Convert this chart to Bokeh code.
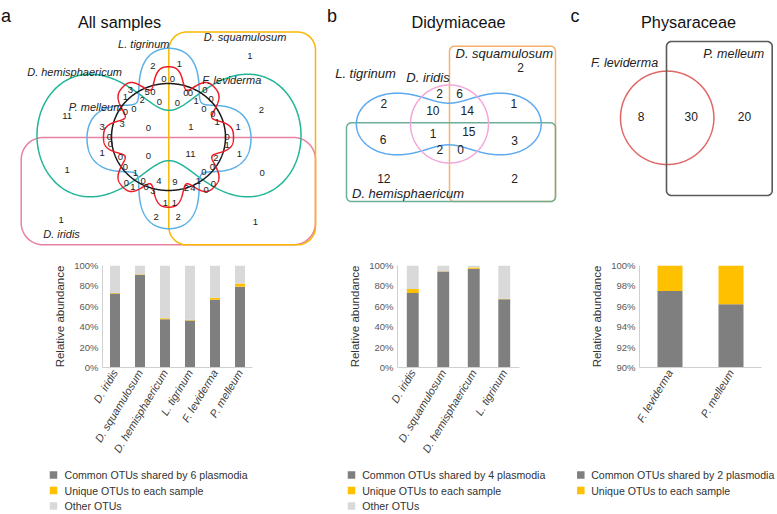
import numpy as np
from bokeh.plotting import figure
from bokeh.layouts import column, row
from bokeh.models import Range1d, FixedTicker, PrintfTickFormatter
from bokeh.core.properties import value
from bokeh.embed import file_html
from bokeh.resources import INLINE

FONT = "Liberation Sans"

# ---------------- data ----------------
titles = ["All samples", "Didymiaceae", "Physaraceae"]
panel_letters = ["a", "b", "c"]

# bar charts (relative abundance, %)
cats_a = ["D. iridis", "D. squamulosum", "D. hemisphaericum", "L. tigrinum", "F. leviderma", "P. melleum"]
common_a = [72.6, 91.0, 47.4, 46.0, 66.3, 79.2]
unique_a = [0.4, 0.3, 1.0, 0.8, 2.2, 3.2]

cats_b = ["D. iridis", "D. squamulosum", "D. hemisphaericum", "L. tigrinum"]
common_b = [73.0, 94.0, 96.8, 67.0]
unique_b = [4.0, 0.3, 1.3, 0.3]

cats_c = ["F. leviderma", "P. melleum"]
common_c = [97.5, 96.2]
unique_c = [2.5, 3.8]

ticks_ab = [0, 20, 40, 60, 80, 100]
ticks_c = [90, 92, 94, 96, 98, 100]

legend_a = ["Common OTUs shared by 6 plasmodia", "Unique OTUs to each sample", "Other OTUs"]
legend_b = ["Common OTUs shared by 4 plasmodia", "Unique OTUs to each sample", "Other OTUs"]
legend_c = ["Common OTUs shared by 2 plasmodia", "Unique OTUs to each sample"]

# Venn diagrams: set names and region counts
sets_a = ["L. tigrinum", "D. squamulosum", "D. hemisphaericum", "F. leviderma", "P. melleum", "D. iridis"]
venn_a_counts = [1, 2, 1, 0, 0, 3, 1, 5, 0, 2, 0, 0, 0, 0, 0, 0, 1, 0, 0, 1,
                 1, 0, 1, 1, 2, 0, 0, 0, 0, 1, 4, 2, 9, 1, 1, 2, 2, 2, 0, 1,
                 1, 11, 0, 0, 11, 3, 0, 0, 3, 0, 0, 1, 0, 0, 1, 0, 1, 0, 4, 0,
                 3, 1, 1]
sets_b = ["L. tigrinum", "D. iridis", "D. squamulosum", "D. hemisphaericum"]
venn_b_counts = [2, 2, 6, 2, 10, 14, 1, 6, 1, 15, 3, 2, 0, 12, 2]
sets_c = ["F. leviderma", "P. melleum"]
venn_c_counts = [8, 30, 20]

# ---------------- layout (positions in page pixels) ----------------
venn_a_x = [249.3, 152.3, 179, 163.3, 172, 130, 125, 146.7, 152.5, 141.7, 159, 177, 185.3, 190, 204.3, 210.7, 195.7, 203.3, 212.3, 216.7,
            237.7, 226.7, 226.7, 239, 215.5, 212, 203.3, 213, 205.7, 197.7, 192.3, 186, 174.3, 165, 174, 177.7, 155.7, 261, 261.7, 255,
            190.5, 190, 148, 148, 66.7, 101.7, 125, 133.3, 121.7, 109, 110, 101.7, 120, 125, 135, 126, 132.3, 142.7, 158.3, 145.7,
            152.3, 66.7, 60.7]
venn_a_y = [55, 65.7, 63.3, 78.3, 78.3, 89.3, 96.7, 91, 91, 99.3, 101.5, 102, 92.7, 92.7, 89.3, 98.3, 100, 108.3, 113.3, 121.7,
            126, 136, 144, 153.3, 157, 166, 171, 183, 189.5, 180, 187, 187.5, 181.7, 202.5, 202.5, 216.5, 216, 109.3, 172.7, 221,
            126.7, 153.7, 127.5, 155, 115, 126.7, 111.5, 108.8, 123.3, 136, 143.3, 152.5, 156.7, 166.7, 172.7, 182.7, 186.7, 180, 180, 186.7,
            190, 169, 219]
sets_a_pos = [(143.3, 43.3, "center"), (203.3, 36.7, "left"), (26.7, 71, "left"),
              (201.7, 79.3, "left"), (68.3, 106, "left"), (42.7, 233.3, "left")]

venn_b_x = [383.3, 439, 459, 520, 432.3, 466.7, 513.3, 382.7, 432.7, 468.3, 514, 439.3, 460, 383.3, 514]
venn_b_y = [102.7, 92.7, 92.7, 66.7, 110, 110, 103.3, 139.3, 133.3, 131, 140, 149.3, 149.3, 178.3, 178.3]
sets_b_pos = [(365, 73.3, "center"), (427.5, 77.3, "center"), (455, 53.3, "left"), (407.5, 192.7, "center")]

venn_c_x = [640.7, 690.7, 744]
venn_c_y = [116, 116, 116]
sets_c_pos = [(624, 62, "center"), (733.3, 53, "center")]

DARK = "#7F7F7F"
YEL = "#FFC000"
LIGHT = "#D9D9D9"

W = 776
H_TOP, H_BAR, H_LEG = 255, 207, 51


def rrect(x0, y0, x1, y1, r, n=16):
    xs, ys = [], []
    for cx, cy, a0 in [(x1 - r, y0 + r, -90), (x1 - r, y1 - r, 0), (x0 + r, y1 - r, 90), (x0 + r, y0 + r, 180)]:
        t = np.radians(np.linspace(a0, a0 + 90, n))
        xs += list(cx + r * np.cos(t))
        ys += list(cy + r * np.sin(t))
    xs.append(xs[0]); ys.append(ys[0])
    return xs, ys


def ellipse(cx, cy, rx, ry, n=360):
    t = np.linspace(0, 2 * np.pi, n + 1)
    return list(cx + rx * np.cos(t)), list(cy + ry * np.sin(t))


def cassini(cx, cy, a, b, sy, n=720):
    t = np.linspace(0, 2 * np.pi, n + 1)
    r = np.sqrt(a * a * np.cos(2 * t) + np.sqrt(b ** 4 - a ** 4 * np.sin(2 * t) ** 2))
    return list(cx + r * np.cos(t)), list(cy + sy * r * np.sin(t))


def flower(cx, cy, k, c0, c1, c2, sy, n=1440):
    t = np.linspace(0, 2 * np.pi, n + 1)
    r = c0 + c1 * np.cos(k * t) + c2 * np.cos(2 * k * t)
    return list(cx + r * np.cos(t)), list(cy + sy * r * np.sin(t))


# ---------------- top figure: Venn diagrams ----------------
top = figure(width=W, height=H_TOP, x_range=Range1d(0, W), y_range=Range1d(H_TOP, 0),
             output_backend="svg", toolbar_location=None, x_axis_location=None, y_axis_location=None,
             min_border=0, outline_line_color=None)
top.grid.visible = False

# panel a shapes
for (xs, ys), col in [
    (rrect(20.7, 137, 315, 244.3, 22), "#E8819F"),
    (rrect(168.3, 31.5, 315, 244.3, 18), "#F9B700"),
    (cassini(168.5, 135, 92.3, 94.4, 1.27), "#22B597"),
    (flower(168.5, 138, 4, 67, 18, -3, 1.1), "#5BB0E6"),
    (ellipse(168, 136.5, 57, 53.5), "#1A1A1A"),
    (flower(168, 136.5, 8, 58, 9, -2, 1.08), "#EE1C25"),
]:
    top.line(xs, ys, line_color=col, line_width=1.5)

# panel b shapes
for (xs, ys), col in [
    (rrect(449, 45.7, 555, 201, 5), "#F6B26B"),
    (rrect(346, 122.3, 555, 201, 5), "#6DAE99"),
    (cassini(448.3, 123.5, 63, 67.6, 0.85), "#5DA9F0"),
    (ellipse(449, 123.5, 39, 39), "#F2A6D9"),
]:
    top.line(xs, ys, line_color=col, line_width=1.5)

# panel c shapes
xs, ys = ellipse(666.7, 117.3, 46.7, 46.7)
top.line(xs, ys, line_color="#E06666", line_width=1.5)
xs, ys = rrect(666, 41, 771.7, 195, 5)
top.line(xs, ys, line_color="#595959", line_width=1.6)

# numbers
top.text(x=venn_a_x, y=venn_a_y, text=[str(v) for v in venn_a_counts], text_font=value(FONT),
         text_font_size="9.5px", text_align="center", text_baseline="middle", text_color="#222222")
top.text(x=venn_b_x, y=venn_b_y, text=[str(v) for v in venn_b_counts], text_font=value(FONT),
         text_font_size="12px", text_align="center", text_baseline="middle", text_color="#222222")
top.text(x=venn_c_x, y=venn_c_y, text=[str(v) for v in venn_c_counts], text_font=value(FONT),
         text_font_size="12px", text_align="center", text_baseline="middle", text_color="#222222")

# set labels
for names, pos, fs in [(sets_a, sets_a_pos, "11px"), (sets_b, sets_b_pos, "13px"), (sets_c, sets_c_pos, "12.5px")]:
    for name, (x, y, al) in zip(names, pos):
        top.text(x=[x], y=[y], text=[name], text_font=value(FONT), text_font_size=fs,
                 text_font_style="italic", text_align=al, text_baseline="middle", text_color="#222222")

# titles and panel letters
top.text(x=[119, 458, 688], y=[21.5, 21, 21], text=titles, text_font=value(FONT), text_font_size="16.3px",
         text_align="center", text_baseline="alphabetic", text_color="#111111")
top.text(x=[0.5, 326.5, 570], y=[15, 15, 15], text=panel_letters, text_font=value(FONT), text_font_size="18px",
         text_align="left", text_baseline="alphabetic", text_color="#111111")


# ---------------- bar charts ----------------
def bar_panel(cats, common, unique, with_other, w, ml, mr, mt, mb, ymin, yticks, barw):
    p = figure(width=w, height=H_BAR, x_range=cats, y_range=Range1d(ymin, 100),
               output_backend="svg", toolbar_location=None,
               min_border_left=ml, min_border_right=mr, min_border_top=mt, min_border_bottom=mb)
    top1 = list(common)
    top2 = [c + u for c, u in zip(common, unique)]
    p.vbar(x=cats, bottom=ymin, top=top1, width=barw, fill_color=DARK, line_color=None)
    p.vbar(x=cats, bottom=top1, top=top2, width=barw, fill_color=YEL, line_color=None)
    if with_other:
        p.vbar(x=cats, bottom=top2, top=100, width=barw, fill_color=LIGHT, line_color=None)
    p.grid.visible = False
    p.outline_line_color = None
    p.axis.axis_line_color = "#D0D0D0"
    p.axis.major_tick_line_color = None
    p.axis.minor_tick_line_color = None
    p.axis.major_tick_out = 0
    p.axis.major_tick_in = 0
    p.yaxis.ticker = FixedTicker(ticks=yticks)
    p.yaxis.formatter = PrintfTickFormatter(format="%d%%")
    p.yaxis.major_label_text_font = FONT
    p.yaxis.major_label_text_font_size = "9.5px"
    p.yaxis.major_label_text_color = "#595959"
    p.yaxis.major_label_standoff = 4
    p.yaxis.axis_label = "Relative abundance"
    p.yaxis.axis_label_text_font = FONT
    p.yaxis.axis_label_text_font_style = "normal"
    p.yaxis.axis_label_text_font_size = "11.5px"
    p.yaxis.axis_label_text_color = "#333333"
    p.yaxis.axis_label_standoff = 5
    p.xaxis.major_label_orientation = 1.03
    p.xaxis.major_label_text_font = FONT
    p.xaxis.major_label_text_font_style = "italic"
    p.xaxis.major_label_text_font_size = "11px"
    p.xaxis.major_label_text_color = "#404040"
    p.xaxis.major_label_standoff = 3
    return p


bar_a = bar_panel(cats_a, common_a, unique_a, True, 262, 102, 10, 8, 95, 0, ticks_ab, 0.4)
bar_b = bar_panel(cats_b, common_b, unique_b, True, 260, 135, 3, 10, 94, 0, ticks_ab, 0.39)
bar_c = bar_panel(cats_c, common_c, unique_c, False, W - 522, 117, 15, 10, 94, 90, ticks_c, 0.41)

# ---------------- legends ----------------
y0 = H_TOP + H_BAR
leg = figure(width=W, height=H_LEG, x_range=Range1d(0, W), y_range=Range1d(y0 + H_LEG, y0),
             output_backend="svg", toolbar_location=None, x_axis_location=None, y_axis_location=None,
             min_border=0, outline_line_color=None)
leg.grid.visible = False
item_y = [474.5, 490.0, 505.5]
item_cols = [DARK, YEL, LIGHT]
for labels, sq_x, tx_x in [(legend_a, 53, 64), (legend_b, 351, 361.7), (legend_c, 580.3, 590.7)]:
    n = len(labels)
    leg.rect(x=[sq_x] * n, y=item_y[:n], width=7.5, height=7.5, fill_color=item_cols[:n], line_color=None)
    leg.text(x=[tx_x] * n, y=item_y[:n], text=labels, text_font=value(FONT), text_font_size="10.6px",
             text_align="left", text_baseline="middle", text_color="#333333")

layout = column(top, row(bar_a, bar_b, bar_c), leg)
open("out.html", "w").write(file_html(layout, INLINE))
